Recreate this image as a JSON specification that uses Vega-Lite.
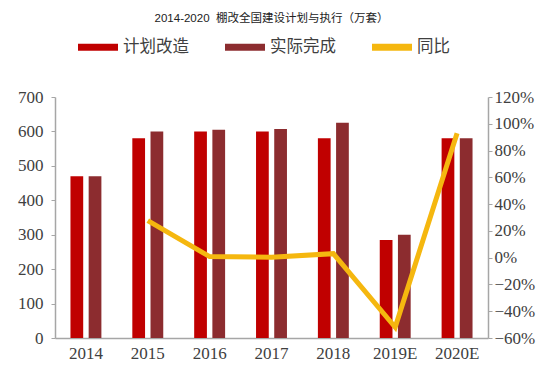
{
  "$schema": "https://vega.github.io/schema/vega-lite/v6.json",
  "autosize": "none",
  "width": 433,
  "height": 241,
  "padding": {"left": 55, "top": 97, "right": 61, "bottom": 31},
  "background": "white",
  "title": {
    "text": "2014-2020\u00a0\u00a0棚改全国建设计划与执行（万套）",
    "font": "Liberation Sans, Noto Sans CJK SC, sans-serif",
    "fontSize": 11.5,
    "fontWeight": "normal",
    "color": "#222222",
    "anchor": "middle",
    "offset": 3
  },
  "datasets": {
    "bars": [
      {"year": "2014", "series": "计划改造", "value": 470},
      {"year": "2014", "series": "实际完成", "value": 470},
      {"year": "2015", "series": "计划改造", "value": 580},
      {"year": "2015", "series": "实际完成", "value": 600},
      {"year": "2016", "series": "计划改造", "value": 600},
      {"year": "2016", "series": "实际完成", "value": 605},
      {"year": "2017", "series": "计划改造", "value": 600},
      {"year": "2017", "series": "实际完成", "value": 607},
      {"year": "2018", "series": "计划改造", "value": 580},
      {"year": "2018", "series": "实际完成", "value": 625},
      {"year": "2019E", "series": "计划改造", "value": 285},
      {"year": "2019E", "series": "实际完成", "value": 300},
      {"year": "2020E", "series": "计划改造", "value": 580},
      {"year": "2020E", "series": "实际完成", "value": 580}
    ],
    "yoy": [
      {"year": "2015", "yoy": 0.277},
      {"year": "2016", "yoy": 0.008},
      {"year": "2017", "yoy": 0.003},
      {"year": "2018", "yoy": 0.03},
      {"year": "2019E", "yoy": -0.52},
      {"year": "2020E", "yoy": 0.93}
    ]
  },
  "layer": [
    {
      "data": {"name": "bars"},
      "mark": {"type": "bar"},
      "encoding": {
        "x": {
          "field": "year", "type": "nominal",
          "sort": ["2014", "2015", "2016", "2017", "2018", "2019E", "2020E"],
          "scale": {"paddingInner": 0.5, "paddingOuter": 0.25},
          "axis": {
            "title": null, "labelAngle": 0, "ticks": false,
            "domainColor": "#a6a6a6", "domainWidth": 1.5,
            "labelFont": "Liberation Serif", "labelFontSize": 17,
            "labelColor": "#404040", "labelPadding": 7
          }
        },
        "xOffset": {
          "field": "series", "type": "nominal",
          "sort": ["计划改造", "实际完成"],
          "scale": {"paddingInner": 0.3, "paddingOuter": 0}
        },
        "y": {
          "field": "value", "type": "quantitative",
          "scale": {"domain": [0, 700]},
          "axis": {
            "title": null, "values": [0, 100, 200, 300, 400, 500, 600, 700],
            "grid": false, "domainColor": "#a6a6a6", "tickColor": "#a6a6a6",
            "domainWidth": 1.5, "tickSize": 4,
            "labelFont": "Liberation Serif", "labelFontSize": 17,
            "labelColor": "#404040", "labelPadding": 8
          }
        },
        "color": {
          "field": "series", "type": "nominal",
          "scale": {
            "domain": ["计划改造", "实际完成", "同比"],
            "range": ["#c00000", "#8c2c2f", "#f5b70f"]
          },
          "legend": {
            "orient": "none",
            "legendX": 23,
            "legendY": -70,
            "direction": "horizontal",
            "title": null,
            "symbolType": "M-1,-0.18H1V0.18H-1Z",
            "symbolSize": 1600,
            "symbolStrokeWidth": 0,
            "labelFont": "Noto Sans CJK SC",
            "labelFontSize": 16.5,
            "labelColor": "#404040",
            "labelOffset": 5,
            "columnPadding": 36,
            "encode": {
              "symbols": {
                "update": {
                  "fill": {"scale": "color", "field": "value"},
                  "stroke": {"value": "transparent"},
                  "opacity": {"value": 1}
                }
              }
            }
          }
        }
      }
    },
    {
      "data": {"name": "yoy"},
      "mark": {"type": "line", "strokeWidth": 5, "strokeJoin": "miter"},
      "encoding": {
        "x": {"field": "year", "type": "nominal", "sort": ["2014", "2015", "2016", "2017", "2018", "2019E", "2020E"]},
        "y": {
          "field": "yoy", "type": "quantitative",
          "scale": {"domain": [-0.6, 1.2]},
          "axis": {
            "orient": "right", "title": null, "format": ".0%",
            "values": [-0.6, -0.4, -0.2, 0, 0.2, 0.4, 0.6, 0.8, 1.0, 1.2],
            "grid": false, "domainColor": "#a6a6a6", "tickColor": "#a6a6a6",
            "domainWidth": 1.5, "tickSize": 4,
            "labelFont": "Liberation Serif", "labelFontSize": 17,
            "labelColor": "#404040", "labelPadding": 2
          }
        },
        "color": {"datum": "同比", "type": "nominal"}
      }
    }
  ],
  "resolve": {"scale": {"y": "independent"}},
  "config": {"view": {"stroke": null}}
}
